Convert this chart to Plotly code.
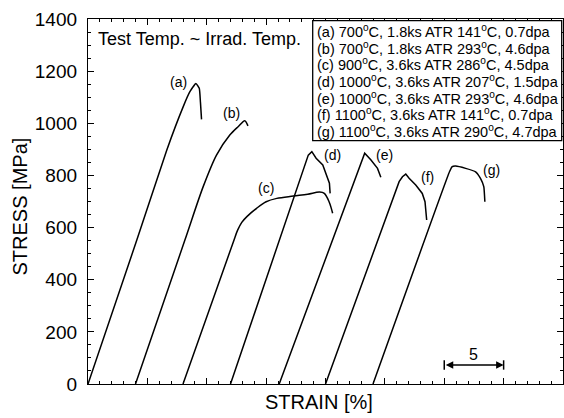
import plotly.graph_objects as go

# ---- data (strain [%], stress [MPa]) ----
A_STRAIN = [0, 4.11, 6.63, 8.02, 8.58, 9.09, 9.37, 9.47, 9.56]
A_STRESS = [0, 552, 897, 1064, 1121, 1153, 1134, 1080, 1015]
B_STRAIN = [4, 8.16, 9.7, 10.82, 11.94, 12.64, 13.2, 13.47]
B_STRESS = [0, 552, 757, 878, 955, 987, 1010, 990]
C_STRAIN = [8, 12.2, 12.6, 12.95, 13.4, 14.2, 15.0, 15.9, 17.3, 18.5, 19.5, 19.9, 20.3, 20.6]
C_STRESS = [0, 540, 590, 620, 643, 674, 699, 712, 721, 728, 736, 731, 699, 655]
D_STRAIN = [12, 18.55, 18.85, 19.21, 19.77, 20.05, 20.33, 20.39]
D_STRESS = [0, 878, 891, 866, 840, 808, 770, 731]
E_STRAIN = [16.1, 23.3, 23.83, 24.38, 24.66]
E_STRESS = [0, 885, 859, 827, 793]
F_STRAIN = [20, 26.2, 26.48, 26.76, 27.04, 27.6, 28.15, 28.38, 28.52]
F_STRESS = [0, 776, 795, 805, 789, 763, 731, 699, 629]
G_STRAIN = [24, 30.45, 30.67, 30.96, 31.8, 32.64, 33.05, 33.33, 33.42]
G_STRESS = [0, 815, 834, 836, 827, 814, 789, 757, 699]

CURVE_LABELS = ["(a)", "(b)", "(c)", "(d)", "(e)", "(f)", "(g)"]
LABEL_STRAIN = [7.66, 12.08, 15.0, 20.6, 25.0, 28.6, 34.0]
LABEL_STRESS = [1158, 1040, 751, 878, 878, 793, 821]

LEGEND_LINES = [
    "(a) 700<sup>o</sup>C, 1.8ks ATR 141<sup>o</sup>C, 0.7dpa",
    "(b) 700<sup>o</sup>C, 1.8ks ATR 293<sup>o</sup>C, 4.6dpa",
    "(c) 900<sup>o</sup>C, 3.6ks ATR 286<sup>o</sup>C, 4.5dpa",
    "(d) 1000<sup>o</sup>C, 3.6ks ATR 207<sup>o</sup>C, 1.5dpa",
    "(e) 1000<sup>o</sup>C, 3.6ks ATR 293<sup>o</sup>C, 4.6dpa",
    "(f) 1100<sup>o</sup>C, 3.6ks ATR 141<sup>o</sup>C, 0.7dpa",
    "(g) 1100<sup>o</sup>C, 3.6ks ATR 290<sup>o</sup>C, 4.7dpa",
]

SCALE_START = 30
SCALE_LEN = 5
SCALE_Y = 73

X_RANGE = [0, 40]
Y_RANGE = [0, 1400]
Y_TICKS = [0, 200, 400, 600, 800, 1000, 1200, 1400]

FONT = "Liberation Sans, Arial, Helvetica, sans-serif"

# plot-area geometry in pixels (used only for placing paper-referenced text)
PL, PR, PT, PB = 88, 563, 19, 384
PW, PH = PR - PL, PB - PT


def px_x(x):
    return (x - PL) / PW


def px_y(y):
    return (PB - y) / PH


fig = go.Figure()
curves = [(A_STRAIN, A_STRESS, "spline", 0.4), (B_STRAIN, B_STRESS, "spline", 0.8),
          (C_STRAIN, C_STRESS, "spline", 1.0), (D_STRAIN, D_STRESS, "linear", None),
          (E_STRAIN, E_STRESS, "linear", None), (F_STRAIN, F_STRESS, "linear", None),
          (G_STRAIN, G_STRESS, "spline", 0.4)]
for (xs, ys, shp, sm), name in zip(curves, CURVE_LABELS):
    line = dict(color="black", width=1.5, shape=shp)
    if sm is not None:
        line["smoothing"] = sm
    fig.add_trace(go.Scatter(x=xs, y=ys, mode="lines", name=name, line=line,
                             showlegend=False))

for lab, lx, ly in zip(CURVE_LABELS, LABEL_STRAIN, LABEL_STRESS):
    fig.add_annotation(x=lx, y=ly, text=lab, showarrow=False,
                       font=dict(family=FONT, size=14, color="black"))

# test temperature note
fig.add_annotation(x=px_x(96), y=px_y(39), xref="paper", yref="paper", text="Test Temp. ~ Irrad. Temp.",
                   showarrow=False, xanchor="left", yanchor="middle",
                   font=dict(family=FONT, size=18, color="black"))

# legend box
fig.add_shape(type="rect", xref="paper", yref="paper",
              x0=px_x(312.7), x1=px_x(561.7), y0=px_y(140.7), y1=px_y(20.7),
              line=dict(color="black", width=1.3), fillcolor="white")
for i, line in enumerate(LEGEND_LINES):
    ypx = 31 + i * 16.7
    fig.add_annotation(x=px_x(315), y=px_y(ypx), xref="paper", yref="paper",
                       text=line, showarrow=False, xanchor="left", yanchor="middle",
                       font=dict(family=FONT, size=14.5, color="black"))

# scale bar
fig.add_annotation(x=SCALE_START + SCALE_LEN, y=SCALE_Y, ax=SCALE_START, ay=SCALE_Y,
                   xref="x", yref="y", axref="x", ayref="y", text="", showarrow=True,
                   arrowhead=2, arrowside="end+start", arrowsize=1, arrowwidth=1.5,
                   arrowcolor="black", standoff=0, startstandoff=0)
for xv in [SCALE_START, SCALE_START + SCALE_LEN]:
    fig.add_shape(type="line", x0=xv, x1=xv, y0=SCALE_Y - 18, y1=SCALE_Y + 18,
                  xref="x", yref="y", line=dict(color="black", width=1.5))
fig.add_annotation(x=SCALE_START + SCALE_LEN / 2, y=SCALE_Y + 40, text=str(SCALE_LEN),
                   showarrow=False, xref="x", yref="y",
                   font=dict(family=FONT, size=16, color="black"))

# axis titles
fig.add_annotation(x=px_x(319), y=px_y(402), xref="paper", yref="paper",
                   text="STRAIN [%]", showarrow=False, yanchor="middle", xanchor="center",
                   font=dict(family=FONT, size=20, color="black"))
fig.add_annotation(x=px_x(19.5), y=px_y(207), xref="paper", yref="paper",
                   text="STRESS [MPa]", showarrow=False, textangle=-90,
                   xanchor="center", yanchor="middle",
                   font=dict(family=FONT, size=20, color="black"))

fig.update_layout(
    width=564, height=418,
    margin=dict(l=PL, r=564 - PR, t=PT, b=418 - PB),
    paper_bgcolor="white", plot_bgcolor="white",
    showlegend=False,
)
fig.update_xaxes(range=X_RANGE, showgrid=False, zeroline=False,
                 showline=True, linecolor="black", linewidth=1.3, mirror="allticks",
                 ticks="inside", dtick=5, tick0=0, ticklen=6, tickwidth=1, tickcolor="black",
                 showticklabels=False,
                 minor=dict(dtick=1, ticks="inside", ticklen=3, tickwidth=1, tickcolor="black"))
fig.update_yaxes(range=Y_RANGE, showgrid=False, zeroline=False,
                 showline=True, linecolor="black", linewidth=1.3, mirror="allticks",
                 ticks="inside", tickvals=Y_TICKS, ticklen=6, tickwidth=1, tickcolor="black",
                 ticklabelstandoff=6,
                 tickfont=dict(family=FONT, size=19, color="black"),
                 minor=dict(dtick=50, ticks="inside", ticklen=3, tickwidth=1, tickcolor="black"))

fig.write_html("out.html", config={"displayModeBar": False},
               post_script="document.body.style.margin='0';")
